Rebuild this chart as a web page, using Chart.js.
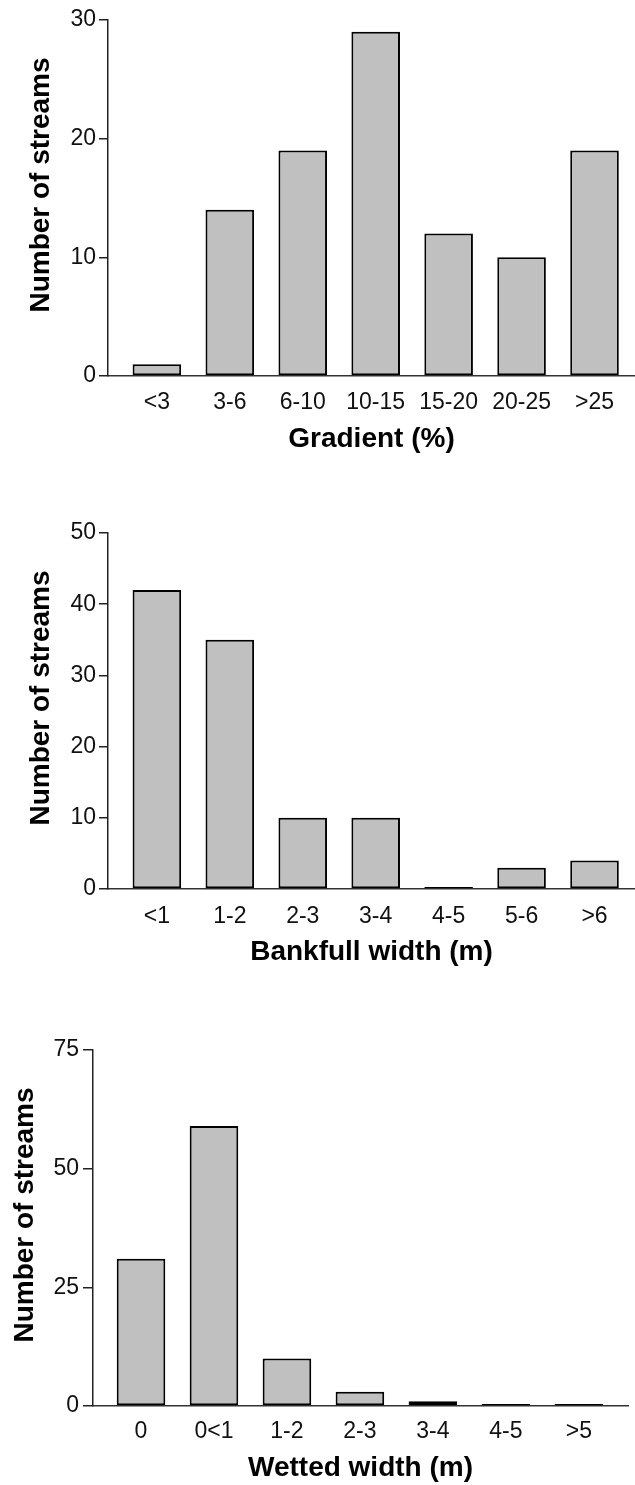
<!DOCTYPE html>
<html>
<head>
<meta charset="utf-8">
<title>Stream histograms</title>
<script src="https://cdn.jsdelivr.net/npm/chart.js@4.4.1/dist/chart.umd.min.js"></script>
<style>
  html, body { margin: 0; padding: 0; background: #fff; }
  body { width: 635px; height: 1485px; position: relative; overflow: hidden; }
  .panel { position: absolute; left: 0; width: 635px; }
</style>
</head>
<body>
<div class="panel" style="top:0;height:480px"><canvas id="gradient-chart"></canvas></div>
<div class="panel" style="top:490px;height:495px"><canvas id="bankfull-chart"></canvas></div>
<div class="panel" style="top:1000px;height:485px"><canvas id="wetted-chart"></canvas></div>
<script>
// data
const gradientLabels = ["<3", "3-6", "6-10", "10-15", "15-20", "20-25", ">25"];
const gradientCounts = [1, 14, 19, 29, 12, 10, 19];
const gradientTicks = [0, 10, 20, 30];

const bankfullLabels = ["<1", "1-2", "2-3", "3-4", "4-5", "5-6", ">6"];
const bankfullCounts = [42, 35, 10, 10, 0, 3, 4];
const bankfullTicks = [0, 10, 20, 30, 40, 50];

const wettedLabels = ["0", "0<1", "1-2", "2-3", "3-4", "4-5", ">5"];
const wettedCounts = [31, 59, 10, 3, 1, 0, 0];
const wettedTicks = [0, 25, 50, 75];

Chart.defaults.font.family = "'Liberation Sans', Arial, sans-serif";
Chart.defaults.color = "#111";

// the y title in the figure sits a bit above the middle of the axis
function liftTitle(scale, dy) {
  if (scale._lifted) return;
  const orig = scale.drawTitle;
  scale.drawTitle = function () {
    this.ctx.save();
    this.ctx.translate(0, -dy);
    orig.call(this);
    this.ctx.restore();
  };
  scale._lifted = true;
}

function histogram(id, labels, counts, yTicks, xTitle, box) {
  return new Chart(document.getElementById(id), {
    type: "bar",
    data: {
      datasets: [
        {
          data: counts.map((v, i) => ({ x: i + 1, y: v })),
          backgroundColor: "#c0c0c0",
          borderColor: "#000",
          borderWidth: 2,
          borderSkipped: false,
          minBarLength: 2,
          barPercentage: 0.666,
          categoryPercentage: 1,
        },
      ],
    },
    options: {
      responsive: true,
      maintainAspectRatio: false,
      animation: false,
      devicePixelRatio: 1,
      layout: { padding: { top: box.top, right: box.right, left: 0, bottom: 0 } },
      plugins: { legend: { display: false }, tooltip: { enabled: false } },
      scales: {
        x: {
          type: "linear",
          offset: false,
          min: box.xMin,
          max: box.xMax,
          afterBuildTicks: (s) => {
            s.ticks = labels.map((_, i) => ({ value: i + 1 }));
          },
          afterFit: (s) => {
            s.height = box.xHeight;
          },
          grid: { display: false, drawTicks: false, offset: false },
          border: { display: true, color: "#333", width: 1.5 },
          ticks: {
            autoSkip: false,
            maxRotation: 0,
            padding: box.xTickPad,
            font: { size: 23 },
            callback: (v, i) => labels[i],
          },
          title: {
            display: true,
            text: xTitle,
            color: "#000",
            font: { size: 28, weight: "bold" },
            padding: { top: 0, bottom: box.xTitlePad },
          },
        },
        y: {
          min: 0,
          max: yTicks[yTicks.length - 1],
          afterBuildTicks: (s) => {
            s.ticks = yTicks.map((v) => ({ value: v }));
          },
          afterFit: (s) => {
            s.width = box.yWidth;
          },
          afterUpdate: (s) => liftTitle(s, 13),
          grid: {
            display: true,
            drawOnChartArea: false,
            drawTicks: true,
            tickLength: box.tickLen,
            color: "#222",
            lineWidth: 1.5,
          },
          border: { display: true, color: "#222", width: 1.5 },
          ticks: { padding: box.tickPad, font: { size: 23 } },
          title: {
            display: true,
            text: "Number of streams",
            color: "#000",
            font: { size: 28, weight: "bold" },
            padding: { top: box.yTitlePad, bottom: 0 },
          },
        },
      },
    },
  });
}

histogram("gradient-chart", gradientLabels, gradientCounts, gradientTicks, "Gradient (%)", {
  top: 20, right: 0, yWidth: 108, xHeight: 104, xMin: 0.33, xMax: 7.555,
  yTitlePad: 24, xTitlePad: 24, xTickPad: 13, tickLen: 9, tickPad: 3,
});

histogram("bankfull-chart", bankfullLabels, bankfullCounts, bankfullTicks, "Bankfull width (m)", {
  top: 43, right: 0, yWidth: 108, xHeight: 96, xMin: 0.33, xMax: 7.555,
  yTitlePad: 24, xTitlePad: 15.5, xTickPad: 14, tickLen: 9, tickPad: 3,
});

histogram("wetted-chart", wettedLabels, wettedCounts, wettedTicks, "Wetted width (m)", {
  top: 50, right: 7, yWidth: 93, xHeight: 79, xMin: 0.342, xMax: 7.674,
  yTitlePad: 8, xTitlePad: 0, xTickPad: 12, tickLen: 10, tickPad: 4,
});
</script>
</body>
</html>
